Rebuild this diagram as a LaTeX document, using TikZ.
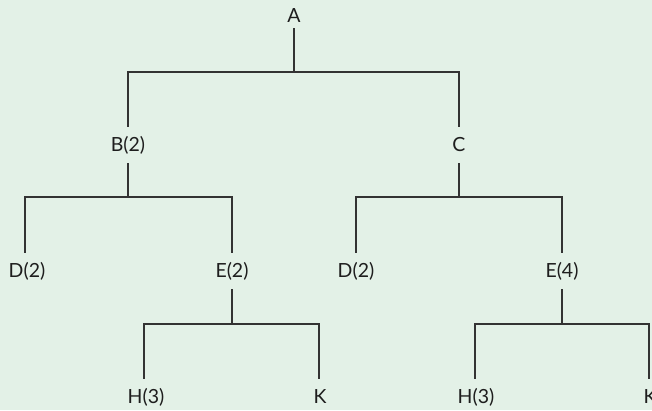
\documentclass[tikz,border=0pt]{standalone}
\usepackage{fontspec}
\setmainfont{Lato}
\definecolor{bg}{HTML}{E3F1E7}
\definecolor{ln}{HTML}{333333}
\definecolor{tx}{HTML}{1E1E1E}
\begin{document}
\begin{tikzpicture}[x=1pt,y=-1pt,
  lbl/.style={text=tx,font=\fontsize{19.5}{19.5}\selectfont,text height=13pt,text depth=0pt,inner xsep=2pt,inner ysep=11.5pt,anchor=center},
  toplbl/.style={lbl,inner ysep=5.5pt},
  conn/.style={draw=ln,line width=1.3pt}]
\fill[bg] (0,0) rectangle (652,410);
\useasboundingbox (0,0) rectangle (652,410);
\clip (0,0) rectangle (652,410);
\node[toplbl] (A) at (294,16) {A};
\node[lbl] (B) at (128,145) {B(2)};
\node[lbl] (C) at (459,145) {C};
\node[lbl] (D1) at (27,271) {D(2)};
\node[lbl] (E1) at (232,271) {E(2)};
\node[lbl] (D2) at (356,271) {D(2)};
\node[lbl] (E2) at (562,271) {E(4)};
\node[lbl] (H1) at (146,397) {H(3)};
\node[lbl] (K1) at (320,397) {K};
\node[lbl] (H2) at (476,397) {H(3)};
\node[lbl] (K2) at (650,397) {K};
\coordinate (jA) at (294,72);
\coordinate (jB) at (128,197);
\coordinate (jC) at (459,197);
\coordinate (jE1) at (232,324);
\coordinate (jE2) at (562,324);
\draw[conn] (A.south) -- (jA);
\draw[conn] (jA) -| ([xshift=0pt]B.north);
\draw[conn] (jA) -| (C.north);
\draw[conn] (B.south) -- (jB);
\draw[conn] (jB) -| ([xshift=-2pt]D1.north);
\draw[conn] (jB) -| (E1.north);
\draw[conn] (C.south) -- (jC);
\draw[conn] (jC) -| (D2.north);
\draw[conn] (jC) -| (E2.north);
\draw[conn] (E1.south) -- (jE1);
\draw[conn] (jE1) -| ([xshift=-2pt]H1.north);
\draw[conn] (jE1) -| ([xshift=-1pt]K1.north);
\draw[conn] (E2.south) -- (jE2);
\draw[conn] (jE2) -| ([xshift=-1pt]H2.north);
\draw[conn] (jE2) -| ([xshift=-1pt]K2.north);
\end{tikzpicture}
\end{document}
